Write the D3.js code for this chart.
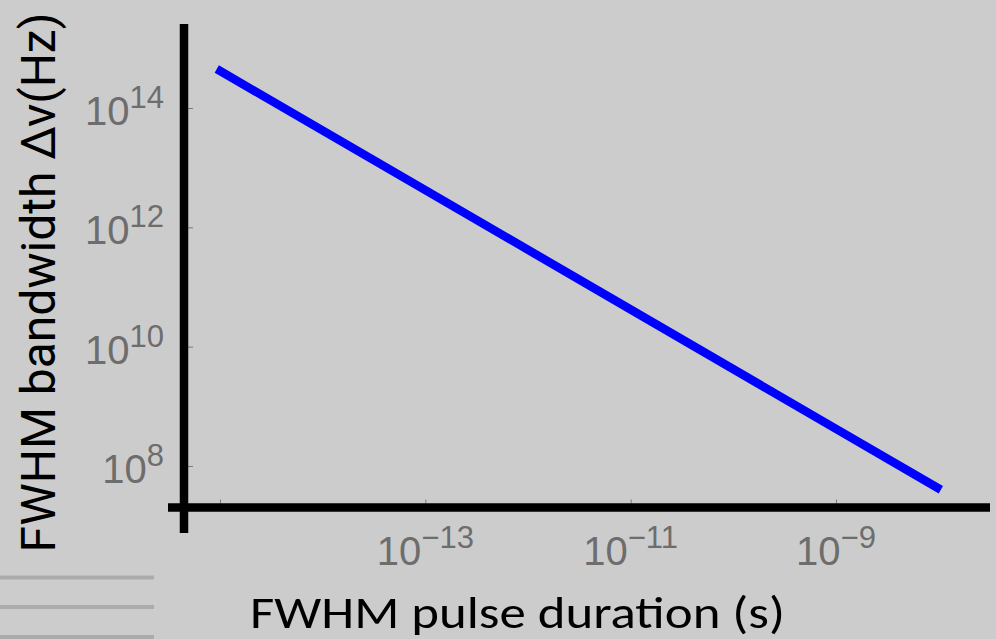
<!DOCTYPE html>
<html>
<head>
<meta charset="utf-8">
<script src="https://cdn.jsdelivr.net/npm/d3@7"></script>
<style>
  html, body { margin: 0; padding: 0; background: #cccccc; }
  svg { display: block; }
  .lab { font-family: "Liberation Sans", Arial, sans-serif; }
  .ttl { font-family: Roboto, "Liberation Sans", sans-serif; }
</style>
</head>
<body>
<div id="chart"></div>
<script>
// ---- data ----
const pulseDuration = [9.3e-16, 1e-13, 1e-11, 1e-9, 1.05e-8];   // seconds
const bandwidth     = [4.5e14, 4.2e12, 4.2e10, 4.2e8, 4.0e7];    // Hz
const xTickValues   = [1e-15, 1e-13, 1e-11, 1e-9];
const xTickLabels   = [null, "−13", "−11", "−9"];              // exponents shown
const yTickValues   = [1e8, 1e10, 1e12, 1e14];
const yTickLabels   = ["8", "10", "12", "14"];
const xTitle = "FWHM pulse duration (s)";
const yTitle = "FWHM bandwidth Δν(Hz)";

// ---- layout ----
const W = 996, H = 639;
const svg = d3.select("#chart").append("svg").attr("width", W).attr("height", H);
svg.append("rect").attr("width", W).attr("height", H).attr("fill", "#cccccc");

const x = d3.scaleLog().domain([1e-15, 1e-9]).range([220, 836]);
const y = d3.scaleLog().domain([1e8, 1e14]).range([466, 108]);

const axisX0 = 184;   // vertical axis position
const axisY0 = 507.5; // horizontal axis position

// decorative grey lines at bottom-left
[577.5, 607, 637].forEach(yy => {
  svg.append("line").attr("x1", 0).attr("x2", 154).attr("y1", yy).attr("y2", yy)
    .attr("stroke", "#ababab").attr("stroke-width", 4);
});

// ticks via d3 axes
const gx = svg.append("g").attr("transform", `translate(0,${axisY0 - 4})`)
  .call(d3.axisTop(x).tickValues(xTickValues).tickSize(4).tickFormat(""));
gx.select(".domain").remove();
gx.selectAll(".tick line").attr("stroke", "#7a7a7a").attr("stroke-width", 1);

const gy = svg.append("g").attr("transform", `translate(${axisX0 + 4},0)`)
  .call(d3.axisRight(y).tickValues(yTickValues).tickSize(5).tickFormat(""));
gy.select(".domain").remove();
gy.selectAll(".tick line").attr("stroke", "#7a7a7a").attr("stroke-width", 1);

// axis lines
svg.append("line").attr("x1", 168).attr("x2", 990).attr("y1", axisY0).attr("y2", axisY0)
  .attr("stroke", "#000").attr("stroke-width", 8.5);
svg.append("line").attr("x1", axisX0).attr("x2", axisX0).attr("y1", 24).attr("y2", 533)
  .attr("stroke", "#000").attr("stroke-width", 8.5);

// data line
const line = d3.line().x((d, i) => x(pulseDuration[i])).y((d, i) => y(bandwidth[i]));
svg.append("path").datum(pulseDuration).attr("d", line)
  .attr("fill", "none").attr("stroke", "#0000ff").attr("stroke-width", 8.5)
  .attr("stroke-linecap", "butt");

// tick labels
const labelColor = "#6d6d6d";

yTickValues.forEach((v, i) => {
  const t = svg.append("text").attr("class", "lab").attr("x", 164).attr("y", y(v) + 17)
    .attr("text-anchor", "end")
    .attr("font-size", 40).attr("fill", labelColor);
  t.append("tspan").text("10");
  t.append("tspan").attr("dy", -17).attr("font-size", 31).text(yTickLabels[i]);
});

xTickValues.forEach((v, i) => {
  if (!xTickLabels[i]) return;
  const t = svg.append("text").attr("class", "lab").attr("x", x(v)).attr("y", 565)
    .attr("text-anchor", "middle")
    .attr("font-size", 40).attr("fill", labelColor);
  t.append("tspan").text("10");
  t.append("tspan").attr("dy", -17).attr("font-size", 31).text(xTickLabels[i]);
});

// axis titles
svg.append("text").attr("x", 250).attr("y", 628)
  .attr("font-family", "Carlito, Lato, 'Open Sans', sans-serif")
  .attr("font-size", 46).attr("fill", "#000")
  .attr("textLength", 535).attr("lengthAdjust", "spacingAndGlyphs")
  .text(xTitle);

svg.append("text").attr("class", "ttl").attr("transform", "translate(55,282.5) rotate(-90)")
  .attr("text-anchor", "middle")
  .attr("font-size", 48).attr("fill", "#000")
  .text(yTitle);
</script>
</body>
</html>
